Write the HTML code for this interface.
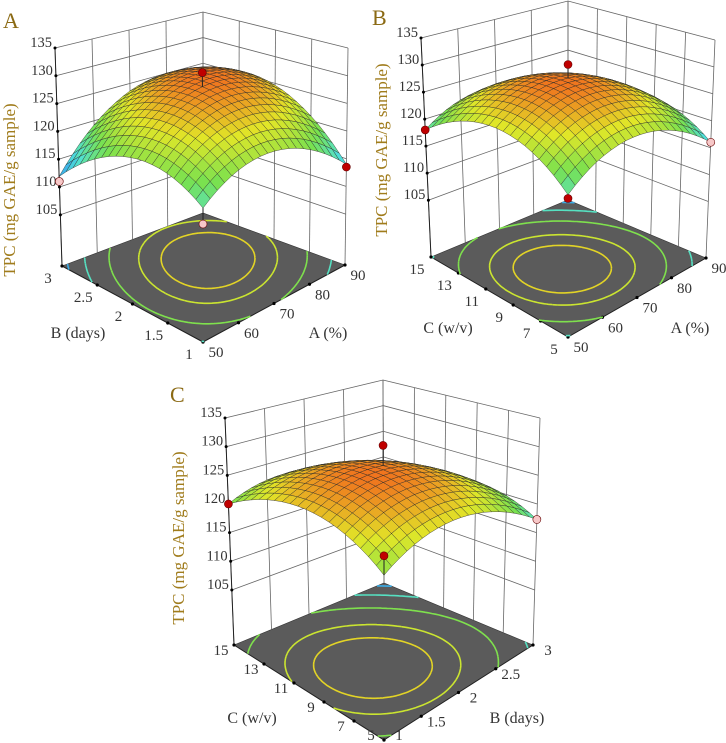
<!DOCTYPE html>
<html><head><meta charset="utf-8"><style>
html,body{margin:0;padding:0;background:#fff;}
svg{display:block;font-family:"Liberation Serif",serif;}
</style></head><body>
<svg id="root" width="726" height="743" viewBox="0 0 726 743" xmlns="http://www.w3.org/2000/svg"></svg>
<script>
// ---- data: response surface coefficients [b0, b1(u), b2(v), b11, b22, b12] in coded units ----
const coefA = [128.5, 2.15, 1.1, -6, -6, 3.55];
const coefB = [128.5, -1.5, -0.5, -6, -6, -0.5];
const coefC = [128, -2.5, -1.15, -5, -5, -0.65];
// design points (coded u, coded v, observed value)
const ptsAu = [0, 1, -1, -1], ptsAv = [0, -1, 1, -1], ptsAz = [131, 113.5, 111, 114.3];
const ptsBu = [0, -1, 1, -1], ptsBv = [0, 1, -1, -1], ptsBz = [131, 118, 116, 117.4];
const ptsCu = [0, -1, 1, -1], ptsCv = [0, 1, -1, -1], ptsCz = [131.5, 120, 117.3, 124];
const ptsColorA = ['red','red','pink','pink'];
const ptsColorB = ['red','red','pink','red'];
const ptsColorC = ['red','red','pink','red'];
// tick labels
const zTicks = [105, 110, 115, 120, 125, 130, 135];
const ticksA_pct = ['50','60','70','80','90'];
const ticksB_days = ['1','1.5','2','2.5','3'];
const ticksC_wv = ['5','7','9','11','13','15'];

const NS = 'http://www.w3.org/2000/svg';
const root = document.getElementById('root');
function el(tag, attrs, parent) {
  const e = document.createElementNS(NS, tag);
  for (const k in attrs) e.setAttribute(k, attrs[k]);
  (parent || root).appendChild(e);
  return e;
}
const panels = [
  {id:'a', letter:'A', lx:3, ly:28, coef:coefA, pu:ptsAu, pv:ptsAv, pz:ptsAz, pc:ptsColorA,
   F:[203,342], R:[345,265], L:[62,266], K:[203,213],
   TF:[203,92], TR:[348,48], TL:[55,48], TK:[203,12], zf:95.8,
   uTicks:ticksA_pct, vTicks:ticksB_days, uTitle:'A (%)', vTitle:'B (days)',
   uOff:[13,10], vOff:[-14,12],
   uT:[328,333], vT:[78,333], zT:[15,190]},
  {id:'b', letter:'B', lx:372, ly:25, coef:coefB, pu:ptsBu, pv:ptsBv, pz:ptsBz, pc:ptsColorB,
   F:[568,337], R:[706,258], L:[431,257], K:[568,200],
   TF:[568,92], TR:[715,40], TL:[421,38], TK:[568,1], zf:94.5,
   uTicks:ticksA_pct, vTicks:ticksC_wv, uTitle:'A (%)', vTitle:'C (w/v)',
   uOff:[13,10], vOff:[-14,12],
   uT:[690,328], vT:[448,328], zT:[387,150]},
  {id:'c', letter:'C', lx:170, ly:402, coef:coefC, pu:ptsCu, pv:ptsCv, pz:ptsCz, pc:ptsColorC,
   F:[384,740], R:[533,645], L:[234,645], K:[384,583],
   TF:[384,485], TR:[540,418], TL:[225,418], TK:[383,380], zf:95.4,
   uTicks:ticksB_days, vTicks:ticksC_wv, uTitle:'B (days)', vTitle:'C (w/v)',
   uOff:[15,5], vOff:[-13,5],
   uT:[517,718], vT:[252,718], zT:[184,538]}
];
function bil(A,B,C,D,u,v,i){
  return A[i]*(1-u)*(1-v)+B[i]*u*(1-v)+C[i]*(1-u)*v+D[i]*u*v;
}
function proj(p,u,v,z){
  const fx=bil(p.F,p.R,p.L,p.K,u,v,0), fy=bil(p.F,p.R,p.L,p.K,u,v,1);
  const tx=bil(p.TF,p.TR,p.TL,p.TK,u,v,0), ty=bil(p.TF,p.TR,p.TL,p.TK,u,v,1);
  const t=(z-p.zf)/(135-p.zf);
  return [fx+t*(tx-fx), fy+t*(ty-fy)];
}
function model(c,u,v){
  const x=2*u-1, y=2*v-1;
  return c[0]+c[1]*x+c[2]*y+c[3]*x*x+c[4]*y*y+c[5]*x*y;
}
const stops=[[0,[50,150,240]],[0.22,[80,225,215]],[0.45,[120,225,80]],[0.72,[225,230,40]],[1,[240,115,30]]];
function cmap(t){
  t=Math.max(0,Math.min(1,t));
  for(let i=1;i<stops.length;i++){
    if(t<=stops[i][0]){
      const a=stops[i-1],b=stops[i],f=(t-a[0])/(b[0]-a[0]);
      return 'rgb('+a[1].map((c,k)=>Math.round(c+f*(b[1][k]-c))).join(',')+')';
    }
  }
  return 'rgb(240,115,30)';
}
function P(a){return a[0].toFixed(1)+','+a[1].toFixed(1);}

panels.forEach(p=>{
  const g=el('g',{});
  
  
  const lt=el('text',{x:p.lx,y:p.ly,'font-size':22,fill:'#8b6a14'},g);
  lt.textContent=p.letter;
  
  
  const fl=el('polygon',{points:[p.F,p.R,p.K,p.L].map(P).join(' '),fill:'#5b5b5b',stroke:'#333','stroke-width':0.6},g);
  
  
  const wg=el('g',{stroke:'#666','stroke-width':0.8,fill:'none'},g);
  
  
  zTicks.forEach(z=>{
    el('polyline',{points:[proj(p,0,1,z),proj(p,1,1,z),proj(p,1,0,z)].map(P).join(' ')},wg);
  });
  const nu=p.uTicks.length-1, nv=p.vTicks.length-1;
  for(let i=0;i<=nu;i++){const u=i/nu; el('line',{x1:proj(p,u,1,p.zf)[0],y1:proj(p,u,1,p.zf)[1],x2:proj(p,u,1,135)[0],y2:proj(p,u,1,135)[1]},wg);}
  for(let i=0;i<=nv;i++){const v=i/nv; el('line',{x1:proj(p,1,v,p.zf)[0],y1:proj(p,1,v,p.zf)[1],x2:proj(p,1,v,135)[0],y2:proj(p,1,v,135)[1]},wg);}
  const za=el('g',{},g);
  
  
  el('line',{x1:proj(p,0,1,p.zf)[0],y1:proj(p,0,1,p.zf)[1],x2:proj(p,0,1,135)[0],y2:proj(p,0,1,135)[1],stroke:'#222','stroke-width':1},za);
  zTicks.forEach(z=>{
    const q=proj(p,0,1,z);
    el('circle',{cx:q[0],cy:q[1],r:1.5,fill:'#000'},za);
    const t=el('text',{x:q[0]-3,y:q[1]-1,'font-size':14.5,'text-anchor':'end',fill:'#333'},za);
    t.textContent=z;
  });
  const zt=el('text',{x:p.zT[0],y:p.zT[1],'font-size':17,'text-anchor':'middle',fill:'#a07c1c',transform:'rotate(-90 '+p.zT[0]+' '+p.zT[1]+')'},g);
  zt.textContent='TPC (mg GAE/g sample)';
  
  
  const ua=el('g',{},g);
  
  
  el('line',{x1:p.F[0],y1:p.F[1],x2:p.R[0],y2:p.R[1],stroke:'#222','stroke-width':1},ua);
  p.uTicks.forEach((s,i)=>{
    const q=proj(p,i/nu,0,p.zf);
    el('circle',{cx:q[0],cy:q[1],r:1.6,fill:'#000'},ua);
    const t=el('text',{x:q[0]+p.uOff[0],y:Math.min(q[1]+p.uOff[1]+5,740),'font-size':15,'text-anchor':'middle',fill:'#333'},ua);
    t.textContent=s;
  });
  const va=el('g',{},g);
  
  
  el('line',{x1:p.F[0],y1:p.F[1],x2:p.L[0],y2:p.L[1],stroke:'#222','stroke-width':1},va);
  p.vTicks.forEach((s,i)=>{
    const q=proj(p,0,i/nv,p.zf);
    el('circle',{cx:q[0],cy:q[1],r:1.6,fill:'#000'},va);
    const t=el('text',{x:q[0]+p.vOff[0],y:Math.min(q[1]+p.vOff[1]+5,740),'font-size':15,'text-anchor':'middle',fill:'#333'},va);
    t.textContent=s;
  });
  const ut=el('text',{x:p.uT[0],y:p.uT[1]+5,'font-size':16,'text-anchor':'middle',fill:'#333'},g);
  ut.textContent=p.uTitle;
  
  
  const vt=el('text',{x:p.vT[0],y:p.vT[1]+5,'font-size':16,'text-anchor':'middle',fill:'#333'},g);
  vt.textContent=p.vTitle;
  
  
  let zmin=1e9,zmax=-1e9;
  const N=20;
  for(let i=0;i<=N;i++)for(let j=0;j<=N;j++){const z=model(p.coef,i/N,j/N);zmin=Math.min(zmin,z);zmax=Math.max(zmax,z);}
  const cg=el('g',{fill:'none','stroke-width':1.6},g);
  
  
  const M=60;
  [0.08,0.3,0.55,0.78,0.9].forEach(fr=>{
    const lev=zmin+fr*(zmax-zmin);
    let d='';
    for(let i=0;i<M;i++)for(let j=0;j<M;j++){
      const c=[[i,j],[i+1,j],[i+1,j+1],[i,j+1]].map(a=>[a[0]/M,a[1]/M,model(p.coef,a[0]/M,a[1]/M)]);
      const pts=[];
      for(let k=0;k<4;k++){
        const a=c[k],b=c[(k+1)%4];
        if((a[2]-lev)*(b[2]-lev)<0){const f=(lev-a[2])/(b[2]-a[2]);pts.push([a[0]+f*(b[0]-a[0]),a[1]+f*(b[1]-a[1])]);}
      }
      for(let k=0;k+1<pts.length;k+=2){
        d+='M'+P(proj(p,pts[k][0],pts[k][1],p.zf))+'L'+P(proj(p,pts[k+1][0],pts[k+1][1],p.zf));
      }
    }
    el('path',{d:d,stroke:cmap(fr*0.85)},cg);
  });
  const sg=el('g',{stroke:'#2a2a2a','stroke-width':0.5,'stroke-opacity':0.8},g);
  
  
  const quads=[];
  for(let i=0;i<N;i++)for(let j=0;j<N;j++)quads.push([i,j]);
  quads.sort((a,b)=>(b[0]+b[1])-(a[0]+a[1]));
  quads.forEach(([i,j])=>{
    const cs=[[i,j],[i+1,j],[i+1,j+1],[i,j+1]].map(a=>[a[0]/N,a[1]/N]);
    const zs=cs.map(c=>model(p.coef,c[0],c[1]));
    const za2=zs.reduce((s,x)=>s+x,0)/4;
    el('polygon',{points:cs.map((c,k)=>P(proj(p,c[0],c[1],zs[k]))).join(' '),fill:cmap((za2-zmin)/(zmax-zmin))},sg);
  });
  const dg=el('g',{},g);
  
  
  p.pu.forEach((u,k)=>{
    const uu=(u+1)/2, vv=(p.pv[k]+1)/2;
    const sz=model(p.coef,uu,vv);
    const q=proj(p,uu,vv,p.pz[k]), s=proj(p,uu,vv,sz);
    el('line',{x1:q[0],y1:q[1],x2:s[0],y2:s[1],stroke:'#222','stroke-width':1},dg);
    el('circle',{cx:q[0],cy:q[1],r:4,fill:p.pc[k]==='red'?'#c00000':'#f7c8c8',stroke:'#600','stroke-width':0.6},dg);
  });
});
</script>
</body></html>
